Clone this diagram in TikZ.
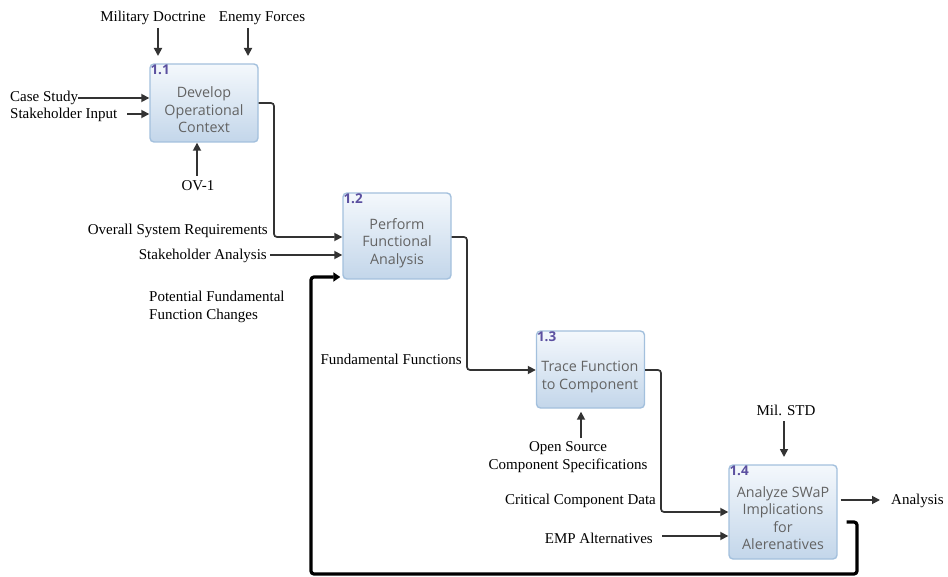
\documentclass[tikz,border=0pt]{standalone}
\usepackage{fontspec}
\setmainfont{Liberation Serif}
\newfontfamily\boxfont{Open Sans}
\usetikzlibrary{arrows.meta}
\definecolor{boxborder}{HTML}{A3C0DD}
\definecolor{boxtop}{HTML}{F4F8FC}
\definecolor{boxbot}{HTML}{C3D6EA}
\definecolor{numcol}{HTML}{5B50A0}
\definecolor{txtgray}{HTML}{636363}
\definecolor{arrcol}{HTML}{333333}
\begin{document}
\begin{tikzpicture}[x=1pt,y=-1pt,
  box/.style={draw=boxborder, line width=1.4pt, rounded corners=4pt,
    top color=boxtop, bottom color=boxbot, minimum width=108pt, inner sep=0pt},
  boxtext/.style={font=\boxfont\fontsize{14.3}{17.5}\selectfont, text=txtgray, align=center, inner sep=0pt},
  num/.style={font=\boxfont\bfseries\fontsize{13.5}{14}\selectfont, text=numcol, anchor=north west, inner sep=1pt},
  lbl/.style={font=\fontsize{15}{18}\selectfont, inner sep=0pt},
  arr/.style={draw=arrcol, line width=1.7pt, -{Triangle[length=8pt,width=8pt]}},
  flow/.style={arr, rounded corners=3pt},
  fb/.style={draw=black, line width=3.2pt, rounded corners=3pt, -{Triangle[length=7pt,width=9pt]}}]
\useasboundingbox (0,0) rectangle (948,577);

% boxes
\node[box, minimum height=78pt] (b1) at (204,103) {};
\node[box, minimum height=86pt] (b2) at (397,236) {};
\node[box, minimum height=77pt] (b3) at (590.5,369.5) {};
\node[box, minimum height=94pt] (b4) at (783,512) {};

\node[num] (n1) at (b1.north west) {1.1};
\node[num] (n2) at (b2.north west) {1.2};
\node[num] (n3) at (b3.north west) {1.3};
\node[num] (n4) at (b4.north west) {1.4};

\node[boxtext] (t1) at (204,110) {Develop\\Operational\\Context};
\node[boxtext] (t2) at (397,243) {Perform\\Functional\\Analysis};
\node[boxtext] (t3) at (590,377) {Trace Function\\to Component};
\node[boxtext] (t4) at (783,518) {Analyze SWaP\\Implications\\for\\Alerenatives};

% labels
\node[lbl] (md) at (153,18) {Military Doctrine};
\node[lbl] (ef) at (262,18) {Enemy Forces};
\node[lbl, anchor=west] (cs) at (10,98) {Case Study};
\node[lbl, anchor=west] (si) at (10,115) {Stakeholder Input};
\node[lbl] (ov) at (198,186) {OV-1};
\node[lbl, anchor=east] (osr) at (268,231) {Overall System Requirements};
\node[lbl, anchor=east] (sa) at (267,256) {Stakeholder Analysis};
\node[lbl, anchor=west, align=left] (pf) at (149,307) {Potential Fundamental\\Function Changes};
\node[lbl, anchor=east] (ff) at (462,359) {Fundamental Functions};
\node[lbl, align=center] (os) at (568,457) {Open Source\\Component Specifications};
\node[lbl, anchor=east] (ccd) at (656,501) {Critical Component Data};
\node[lbl, anchor=east] (emp) at (653,538) {EMP Alternatives};
\node[lbl] (ms) at (786,410) {Mil. STD};
\node[lbl, anchor=west] (an) at (891,501) {Analysis};

% coordinates
\coordinate (md1) at (158,28);  \coordinate (md2) at (158,56);
\coordinate (ef1) at (248,28);  \coordinate (ef2) at (248,56);
\coordinate (si1) at (127,114);
\coordinate (ov1) at (197,176);
\coordinate (sa1) at (270,255);
\coordinate (os1) at (581,438);
\coordinate (emp1) at (662,536);
\coordinate (ms1) at (784,421); \coordinate (ms2) at (784,457);
\coordinate (an1) at (880,500);

% inputs / controls / mechanisms
\draw[arr] (md1) -- (md2);
\draw[arr] (ef1) -- (ef2);
\draw[arr] (cs.east) -- (cs.east -| b1.west);
\draw[arr] (si1) -- (si1 -| b1.west);
\draw[arr] (ov1) -- (ov1 |- b1.south);
\draw[arr] (sa1) -- (sa1 -| b2.west);
\draw[arr] (os1) -- ([yshift=-3pt]os1 |- b3.south);
\draw[arr] (emp1) -- (emp1 -| b4.west);
\draw[arr] (ms1) -- (ms2);
\draw[arr] (an1 -| b4.east) ++(3,0) -- (an1);

% flows between boxes
\draw[flow] (b1.east |- 0,103) -- (274,103) -- (274,237) -- (b2.west |- 0,237);
\draw[flow] (b2.east |- 0,237) -- (467,237) -- (467,370) -- (b3.west |- 0,370);
\draw[flow] (b3.east |- 0,370) -- (661,370) -- (661,512) -- (b4.west |- 0,512);

% feedback
\draw[fb] ([xshift=9pt]b4.east |- 0,522) -- (857,522) -- (857,574) -- (311,574) -- (311,277) -- ([xshift=-2pt]b2.west |- 0,277);
\end{tikzpicture}
\end{document}
